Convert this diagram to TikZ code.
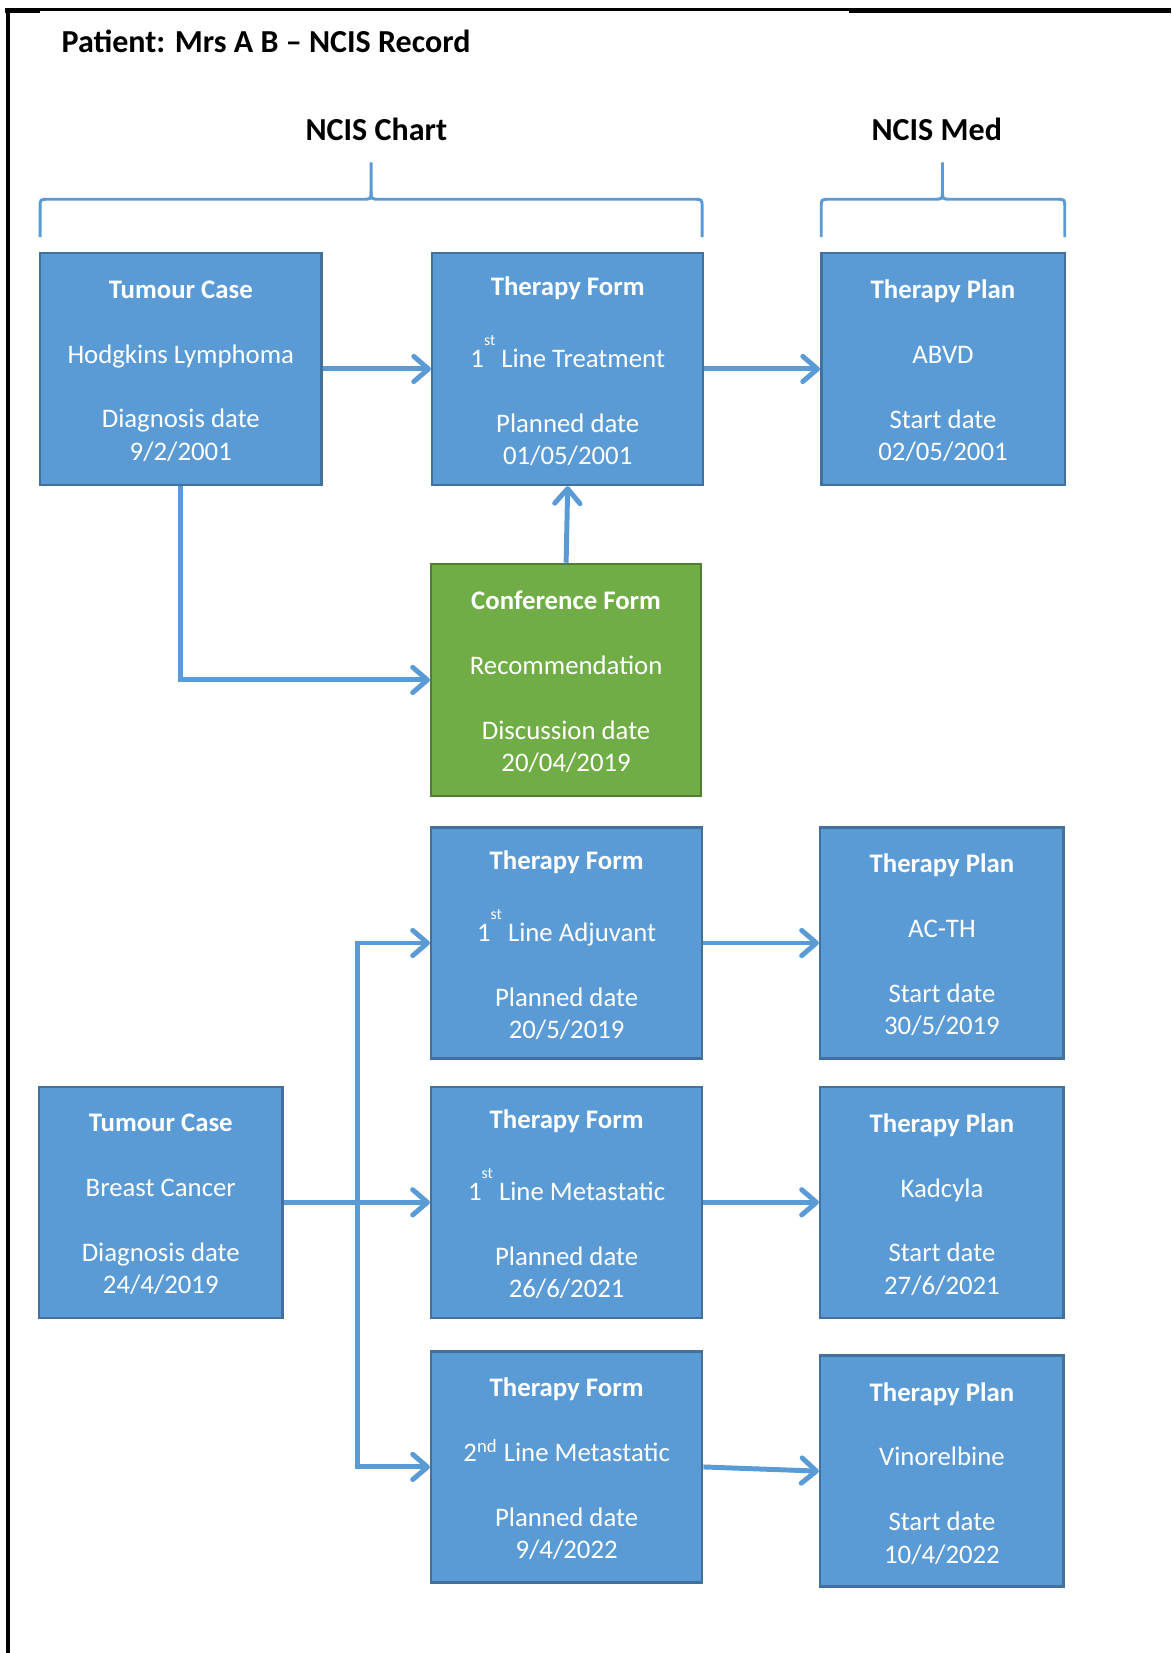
\documentclass[tikz,border=0pt]{standalone}
\usepackage{fontspec}
\setmainfont{Carlito}
\usetikzlibrary{arrows.meta,fit}
\definecolor{boxblue}{HTML}{5B9BD5}
\definecolor{boxedge}{HTML}{41719C}
\definecolor{boxgreen}{HTML}{70AD47}
\definecolor{greenedge}{HTML}{507E32}
\newcommand{\stsup}{\raisebox{10.5pt}[0pt][0pt]{\fontsize{7.5}{8}\selectfont st}}
\begin{document}
\begin{tikzpicture}[x=0.5pt,y=-0.5pt,
  box/.style={draw=boxedge, fill=boxblue, line width=1.2pt, inner sep=0pt},
  greenbox/.style={box, draw=greenedge, fill=boxgreen},
  boxtext/.style={inner sep=0pt, text=white, align=center, font=\fontsize{12.7}{15.35}\selectfont},
  arr/.style={draw=boxblue, line width=2.35pt, -{Straight Barb[length=7pt,width=12pt,round]}},
  brace/.style={draw=boxblue, line width=1.4pt},
  heading/.style={font=\fontsize{15.2}{18}\selectfont\bfseries, inner sep=0pt}]
\useasboundingbox (0,0) rectangle (1111,1568);
% frame
\draw[line width=2.35pt] (7.6,7.6) -- (7.6,1568);
\draw[line width=1.4pt] (5,9) -- (805,9);
\draw[line width=2.35pt] (805,10) -- (1111,10);
\draw[line width=2.35pt] (5,10) -- (38,10);
% headings
\node[heading, anchor=base west] (title) at (58,50) {Patient: Mrs A B – NCIS Record};
\node[heading, anchor=base] (chart) at (357,133) {NCIS Chart};
\node[heading, anchor=base] (med) at (888.6,133) {NCIS Med};
% braces
\draw[brace] (38,225) -- (38,197) .. controls (38,189) .. (46,189) -- (344,189) .. controls (352,189) .. (352,181) -- (352,154);
\draw[brace] (352,181) .. controls (352,189) .. (360,189) -- (658,189) .. controls (666,189) .. (666,197) -- (666,225);
\draw[brace] (779,225) -- (779,197) .. controls (779,189) .. (787,189) -- (886,189) .. controls (894,189) .. (894,181) -- (894,154);
\draw[brace] (894,181) .. controls (894,189) .. (902,189) -- (1002,189) .. controls (1010,189) .. (1010,197) -- (1010,225);
% boxes
\node[box, fit={(38,240) (305,460)}] (tc1) {};
\node[box, fit={(410,240) (667,460)}] (tf1) {};
\node[box, fit={(779,240) (1010,460)}] (tp1) {};
\node[greenbox, fit={(409,535) (665,755)}] (conf) {};
\node[box, fit={(409,785) (666,1004)}] (tfa) {};
\node[box, fit={(778,785) (1009,1004)}] (tpa) {};
\node[box, fit={(37,1031) (268,1250)}] (tc2) {};
\node[box, fit={(409,1031) (666,1250)}] (tfm) {};
\node[box, fit={(778,1031) (1009,1250)}] (tpk) {};
\node[box, fit={(409,1282) (666,1501)}] (tf2) {};
\node[box, fit={(778,1286) (1009,1505)}] (tpv) {};
% box texts
\node[boxtext] (tc1t) at ([yshift=-1pt]tc1.center) {\textbf{Tumour Case}\\[15.4pt] Hodgkins Lymphoma\\[15.4pt] Diagnosis date\\ 9/2/2001};
\node[boxtext] (tf1t) at ([yshift=-1pt]tf1.center) {\textbf{Therapy Form}\\[18.9pt] 1\stsup\ Line Treatment\\[15.4pt] Planned date\\ 01/05/2001};
\node[boxtext] (tp1t) at ([yshift=-1pt]tp1.center) {\textbf{Therapy Plan}\\[15.4pt] ABVD\\[15.4pt] Start date\\ 02/05/2001};
\node[boxtext] (conft) at ([yshift=-1pt]conf.center) {\textbf{Conference Form}\\[15.4pt] Recommendation\\[15.4pt] Discussion date\\ 20/04/2019};
\node[boxtext] (tfat) at ([yshift=-1pt]tfa.center) {\textbf{Therapy Form}\\[18.9pt] 1\stsup\ Line Adjuvant\\[15.4pt] Planned date\\ 20/5/2019};
\node[boxtext] (tpat) at ([yshift=-1pt]tpa.center) {\textbf{Therapy Plan}\\[15.4pt] AC-TH\\[15.4pt] Start date\\ 30/5/2019};
\node[boxtext] (tc2t) at ([yshift=-1pt]tc2.center) {\textbf{Tumour Case}\\[15.4pt] Breast Cancer\\[15.4pt] Diagnosis date\\ 24/4/2019};
\node[boxtext] (tfmt) at ([yshift=-1pt]tfm.center) {\textbf{Therapy Form}\\[18.9pt] 1\stsup\ Line Metastatic\\[15.4pt] Planned date\\ 26/6/2021};
\node[boxtext] (tpkt) at ([yshift=-1pt]tpk.center) {\textbf{Therapy Plan}\\[15.4pt] Kadcyla\\[15.4pt] Start date\\ 27/6/2021};
\node[boxtext] (tf2t) at ([yshift=-1pt]tf2.center) {\textbf{Therapy Form}\\[15.4pt] 2\textsuperscript{nd} Line Metastatic\\[15.4pt] Planned date\\ 9/4/2022};
\node[boxtext] (tpvt) at ([yshift=-1pt]tpv.center) {\textbf{Therapy Plan}\\[15.4pt] Vinorelbine\\[15.4pt] Start date\\ 10/4/2022};
% connectors
\draw[arr] (tc1) -- (tf1);
\draw[arr] (tf1) -- (tp1);
\draw[arr] (tc1.south) |- (conf.west);
\draw[arr] (conf.north) -- (tf1.south);
\draw[arr] (tfa) -- (tpa);
\coordinate (jn) at (339,1140.5);
\draw[arr] (tc2) -- (tfm);
\draw[arr] (jn) |- (tfa.west);
\draw[arr] (jn) |- (tf2.west);
\draw[arr] (tfm) -- (tpk);
\draw[arr] (tf2.east) -- (tpv.west);
\end{tikzpicture}
\end{document}
